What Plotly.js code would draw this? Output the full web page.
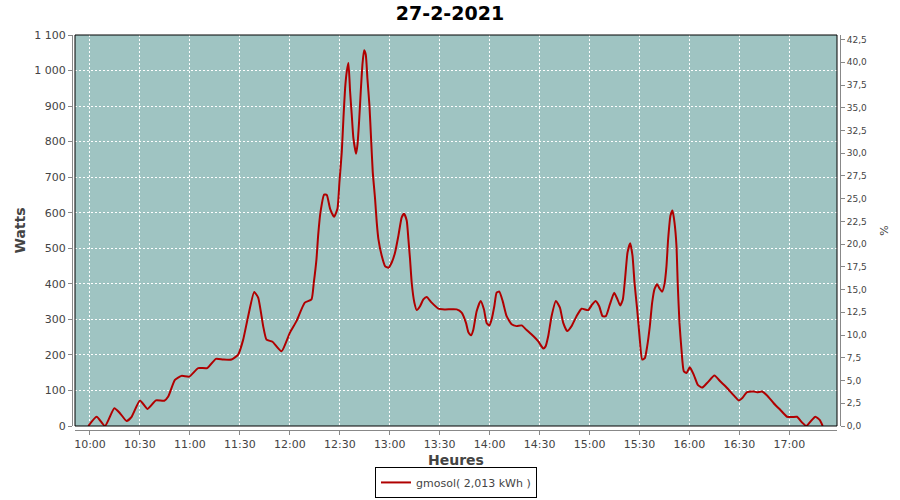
<!DOCTYPE html>
<html>
<head>
<meta charset="utf-8">
<script src="https://cdn.plot.ly/plotly-3.0.1.min.js"></script>
<style>html,body{margin:0;padding:0;background:#fff;}#chart{width:900px;height:500px;}</style>
</head>
<body>
<div id="chart"></div>
<script>
const day = "2021-02-27";
const times = [
"09:59:00","10:04:00","10:09:00","10:14:36","10:18:00","10:22:00","10:25:00","10:30:00","10:34:36","10:39:36",
"10:44:36","10:47:00","10:51:00","10:55:00","10:59:36","11:05:00","11:10:24","11:15:36","11:20:00","11:25:00",
"11:29:00","11:32:00","11:35:00","11:38:36","11:41:00","11:44:00","11:46:00","11:49:36","11:55:00","12:00:00",
"12:04:00","12:09:00","12:13:00","12:14:24","12:16:00","12:17:00","12:18:24","12:20:36","12:22:12","12:24:12",
"12:26:36","12:28:36","12:29:48","12:31:12","12:32:12","12:33:12","12:34:12","12:35:12","12:36:12","12:37:12",
"12:38:12","12:39:48","12:40:36","12:41:36","12:42:36","12:43:36","12:44:36","12:45:36","12:46:36","12:47:48",
"12:48:48","12:49:48","12:51:12","12:52:12","12:53:12","12:55:12","12:57:12","12:59:12","13:01:12","13:03:12",
"13:05:12","13:07:12","13:08:36","13:10:12","13:11:12","13:12:12","13:13:12","13:14:48","13:16:12","13:18:12",
"13:20:12","13:22:12","13:25:12","13:29:12","13:33:12","13:40:12","13:43:12","13:45:48","13:47:12","13:48:48",
"13:50:12","13:52:12","13:54:36","13:56:36","13:58:12","13:59:48","14:01:12","14:02:48","14:04:12","14:05:48",
"14:07:48","14:10:12","14:13:12","14:16:12","14:19:12","14:22:12","14:26:12","14:29:12","14:32:12","14:33:36",
"14:35:12","14:37:12","14:39:48","14:42:12","14:44:12","14:46:36","14:49:12","14:52:12","14:55:12","14:59:12",
"15:01:36","15:03:36","15:05:48","15:07:48","15:09:48","15:12:12","15:14:48","15:16:48","15:18:24","15:20:00",
"15:21:24","15:22:48","15:24:24","15:25:48","15:27:00","15:28:36","15:30:00","15:31:36","15:33:12","15:34:36",
"15:36:12","15:37:36","15:39:00","15:40:36","15:42:00","15:43:36","15:45:00","15:46:12","15:47:12","15:48:36",
"15:49:48","15:51:00","15:52:12","15:53:00","15:54:00","15:55:12","15:56:36","15:58:12","16:00:12","16:02:36",
"16:05:00","16:07:36","16:10:36","16:15:00","16:18:36","16:22:36","16:26:36","16:29:36","16:31:36","16:34:36",
"16:38:36","16:40:36","16:43:36","16:46:36","16:50:36","16:54:36","16:58:36","17:01:36","17:04:36","17:07:36",
"17:10:12","17:12:36","17:15:36","17:18:12","17:20:00"
];
const watts = [
0,26,0,50,36,14,26,72,48,72,
71,83,130,141,139,163,163,189,187,187,
201,243,309,377,361,281,243,237,210,262,
295,347,356,403,469,535,601,651,650,611,
589,611,686,771,865,950,997,1021,941,875,
809,766,790,856,941,1016,1057,1045,978,903,
809,715,639,573,526,479,450,445,460,488,
535,587,597,578,526,469,403,347,326,337,
356,363,347,330,328,328,319,290,264,255,
271,323,352,328,290,283,300,337,375,378,
352,309,286,281,283,270,253,238,218,224,
253,309,352,333,290,267,281,309,330,326,
342,352,337,309,309,342,375,356,339,356,
418,488,514,479,403,328,253,187,191,224,
281,347,385,399,387,378,399,450,526,592,
606,573,507,394,290,215,154,149,165,144,
116,108,121,142,125,107,86,72,78,95,
97,95,97,86,64,45,26,25,26,10,
0,12,26,17,0
];
const seriesName = "gmosol( 2,013 kWh )";
const chartTitle = "27-2-2021";
const xTitle = "Heures";
const yTitle = "Watts";
const y2Title = "%";

const xs = times.map(t => day + " " + t);
const font = "DejaVu Sans, Verdana, sans-serif";
const tickFont = {family: font, size: 11, color: "#444"};

const data = [{
  x: xs, y: watts, type: "scatter", mode: "lines", name: seriesName,
  line: {color: "#B00000", width: 2, shape: "spline", smoothing: 0.5},
  hoverinfo: "skip"
}, {
  x: [xs[0]], y: [null], type: "scatter", mode: "lines", yaxis: "y2",
  showlegend: false, hoverinfo: "skip"
}];

const layout = {
  width: 900, height: 500,
  margin: {l: 72, r: 60, t: 35, b: 70, autoexpand: false},
  paper_bgcolor: "#ffffff",
  plot_bgcolor: "#9FC4C2",
  separators: ", ",
  title: {text: chartTitle, x: 0.5, xanchor: "center", y: 0.974, yanchor: "middle",
          font: {family: font, size: 19, color: "#000", weight: "bold"}},
  showlegend: true,
  legend: {orientation: "h", x: 0.5, xanchor: "center", y: -0.172, yanchor: "bottom",
           bordercolor: "#000", borderwidth: 1, bgcolor: "#fff",
           font: {family: font, size: 11, color: "#444"}, itemwidth: 30},
  xaxis: {
    type: "date", domain: [3/768, 765/768], anchor: "free", position: 0,
    range: [day + " 09:51:00", day + " 17:28:36"],
    tick0: day + " 10:00:00", dtick: 1800000, tickformat: "%H:%M",
    showgrid: true, gridcolor: "#ffffff", griddash: "2px,2px", gridwidth: 1,
    showline: true, linecolor: "#888", linewidth: 1,
    ticks: "outside", ticklen: 4, tickcolor: "#888",
    tickfont: tickFont, zeroline: false, automargin: false,
    title: {text: xTitle, standoff: 4, font: {family: font, size: 14, color: "#444", weight: "bold"}}
  },
  yaxis: {
    domain: [4/395, 1], anchor: "free", position: 0,
    range: [0, 1100], dtick: 100, separatethousands: true,
    showgrid: true, gridcolor: "#ffffff", griddash: "2px,2px", gridwidth: 1,
    showline: true, linecolor: "#888", linewidth: 1,
    ticks: "outside", ticklen: 4, tickcolor: "#888",
    tickfont: tickFont, zeroline: false, automargin: false,
    title: {text: yTitle, standoff: 4, font: {family: font, size: 14, color: "#444", weight: "bold"}}
  },
  yaxis2: {
    overlaying: "y", side: "right", anchor: "free", position: 1,
    range: [0, 43.0], dtick: 2.5, tick0: 0, tickformat: ".1f",
    showgrid: false, zeroline: false, automargin: false,
    showline: true, linecolor: "#888", linewidth: 1,
    ticks: "outside", ticklen: 4, tickcolor: "#888",
    tickfont: {family: font, size: 9, color: "#444"},
    title: {text: y2Title, standoff: 14, font: {family: font, size: 11, color: "#444"}}
  },
  shapes: [{type: "rect", xref: "x domain", yref: "y domain", x0: 0, x1: 1, y0: 0, y1: 1,
            line: {color: "#000", width: 1}, fillcolor: "rgba(0,0,0,0)", layer: "above"}]
};

Plotly.newPlot("chart", data, layout, {displayModeBar: false, staticPlot: true});
</script>
</body>
</html>
